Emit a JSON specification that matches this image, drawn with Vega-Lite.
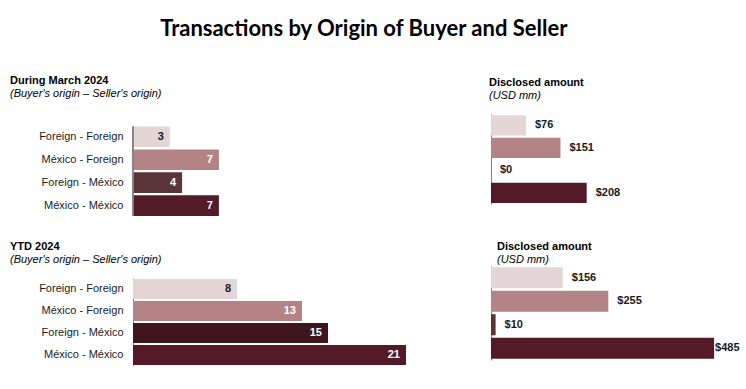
{
  "$schema": "https://vega.github.io/schema/vega-lite/v6.json",
  "padding": {"left": 10, "top": 18, "right": 0, "bottom": 0},
  "background": "white",
  "title": {"text": "Transactions by Origin of Buyer and Seller", "font": "Lato", "fontSize": 22, "fontWeight": "bold", "color": "#000000", "anchor": "middle", "frame": "bounds", "dx": -11, "offset": 34},
  "config": {
    "view": {"stroke": null},
    "font": "Liberation Sans",
    "axis": {"labelFont": "Liberation Sans", "labelFontSize": 11, "labelColor": "#1a1a1a", "domainColor": "#808080", "ticks": false, "grid": false, "title": null},
    "title": {"font": "Liberation Sans", "fontSize": 11, "fontWeight": "bold", "color": "#000000", "anchor": "start", "subtitleFont": "Liberation Sans", "subtitleFontSize": 11, "subtitleFontStyle": "italic", "subtitleColor": "#000000", "subtitlePadding": 2}
  },
  "datasets": {
    "march": [
      {"pair": "Foreign - Foreign", "count": 3, "amount": 76},
      {"pair": "México - Foreign", "count": 7, "amount": 151},
      {"pair": "Foreign - México", "count": 4, "amount": 0},
      {"pair": "México - México", "count": 7, "amount": 208}
    ],
    "ytd": [
      {"pair": "Foreign - Foreign", "count": 8, "amount": 156},
      {"pair": "México - Foreign", "count": 13, "amount": 255},
      {"pair": "Foreign - México", "count": 15, "amount": 10},
      {"pair": "México - México", "count": 21, "amount": 485}
    ]
  },
  "columns": 2,
  "align": {"row": "none", "column": "all"},
  "spacing": {"column": 70, "row": 24},
  "concat": [
    {
      "data": {"name": "march"},
      "width": 270, "height": 102,
      "title": {"text": "During March 2024", "subtitle": "(Buyer's origin – Seller's origin)", "offset": 15},
      "encoding": {
        "y": {"field": "pair", "type": "nominal", "sort": null, "scale": {"paddingInner": 0.1, "paddingOuter": 0.27, "align": 1}, "axis": {"labelPadding": 10, "domain": false, "minExtent": 123, "maxExtent": 123}},
        "x": {"field": "count", "type": "quantitative", "scale": {"domain": [0, 22]}, "axis": null}
      },
      "layer": [
        {"mark": {"type": "bar"}, "encoding": {"color": {"field": "pair", "type": "nominal", "legend": null, "scale": {"domain": ["Foreign - Foreign", "México - Foreign", "Foreign - México", "México - México"], "range": ["#e4d6d7", "#b38385", "#5a3538", "#521b27"]}}}},
        {"mark": {"type": "text", "align": "right", "dx": -6, "baseline": "middle", "fontWeight": "bold", "fontSize": 11}, "encoding": {"text": {"field": "count", "type": "quantitative"}, "color": {"condition": {"test": "datum.pair === 'Foreign - Foreign'", "value": "#1a1a1a"}, "value": "#ffffff"}}},
        {"mark": {"type": "rule", "color": "#808080", "strokeWidth": 1}, "encoding": {"x": {"datum": 0}, "y": {"datum": "Foreign - Foreign", "bandPosition": 0}, "y2": {"datum": "México - México", "bandPosition": 1}}}
      ]
    },
    {
      "data": {"name": "march"},
      "width": 230, "height": 90,
      "title": {"text": "Disclosed amount", "subtitle": "(USD mm)", "dx": -2, "offset": 13},
      "encoding": {
        "y": {"field": "pair", "type": "nominal", "sort": null, "scale": {"paddingInner": 0.1, "paddingOuter": 0.05}, "axis": {"labels": false, "minExtent": 0, "maxExtent": 0}},
        "x": {"field": "amount", "type": "quantitative", "scale": {"domain": [0, 500]}, "axis": null}
      },
      "layer": [
        {"mark": {"type": "bar"}, "encoding": {"color": {"field": "pair", "type": "nominal", "legend": null, "scale": {"domain": ["Foreign - Foreign", "México - Foreign", "Foreign - México", "México - México"], "range": ["#e4d6d7", "#b38385", "#5a3538", "#521b27"]}}}},
        {"mark": {"type": "text", "align": "left", "dx": {"expr": "datum.amount > 400 ? 1 : 9"}, "baseline": "middle", "fontWeight": "bold", "fontSize": 11, "color": "#1a1a1a"}, "encoding": {"text": {"field": "amount", "type": "quantitative", "format": "$,.0f"}}}
      ]
    },
    {
      "data": {"name": "ytd"},
      "width": 286, "height": 88,
      "title": {"text": "YTD 2024", "subtitle": "(Buyer's origin – Seller's origin)", "offset": 13},
      "encoding": {
        "y": {"field": "pair", "type": "nominal", "sort": null, "scale": {"paddingInner": 0.1, "paddingOuter": 0.05}, "axis": {"labelPadding": 10, "minExtent": 123, "maxExtent": 123}},
        "x": {"field": "count", "type": "quantitative", "scale": {"domain": [0, 22]}, "axis": null}
      },
      "layer": [
        {"mark": {"type": "bar"}, "encoding": {"color": {"field": "pair", "type": "nominal", "legend": null, "scale": {"domain": ["Foreign - Foreign", "México - Foreign", "Foreign - México", "México - México"], "range": ["#e4d6d7", "#b38385", "#3f161d", "#521b27"]}}}},
        {"mark": {"type": "text", "align": "right", "dx": -6, "baseline": "middle", "fontWeight": "bold", "fontSize": 11}, "encoding": {"text": {"field": "count", "type": "quantitative"}, "color": {"condition": {"test": "datum.pair === 'Foreign - Foreign'", "value": "#1a1a1a"}, "value": "#ffffff"}}}
      ]
    },
    {
      "data": {"name": "ytd"},
      "width": 230, "height": 94,
      "title": {"text": "Disclosed amount", "subtitle": "(USD mm)", "dx": 6, "offset": 1},
      "encoding": {
        "y": {"field": "pair", "type": "nominal", "sort": null, "scale": {"paddingInner": 0.1, "paddingOuter": 0.05}, "axis": {"labels": false, "minExtent": 0, "maxExtent": 0}},
        "x": {"field": "amount", "type": "quantitative", "scale": {"domain": [0, 500]}, "axis": null}
      },
      "layer": [
        {"mark": {"type": "bar"}, "encoding": {"color": {"field": "pair", "type": "nominal", "legend": null, "scale": {"domain": ["Foreign - Foreign", "México - Foreign", "Foreign - México", "México - México"], "range": ["#e4d6d7", "#b38385", "#5a3538", "#521b27"]}}}},
        {"mark": {"type": "text", "align": "left", "dx": {"expr": "datum.amount > 400 ? 1 : 9"}, "baseline": "middle", "fontWeight": "bold", "fontSize": 11, "color": "#1a1a1a"}, "encoding": {"text": {"field": "amount", "type": "quantitative", "format": "$,.0f"}}}
      ]
    }
  ],
  "resolve": {"scale": {"x": "independent", "y": "independent", "color": "independent"}}
}
